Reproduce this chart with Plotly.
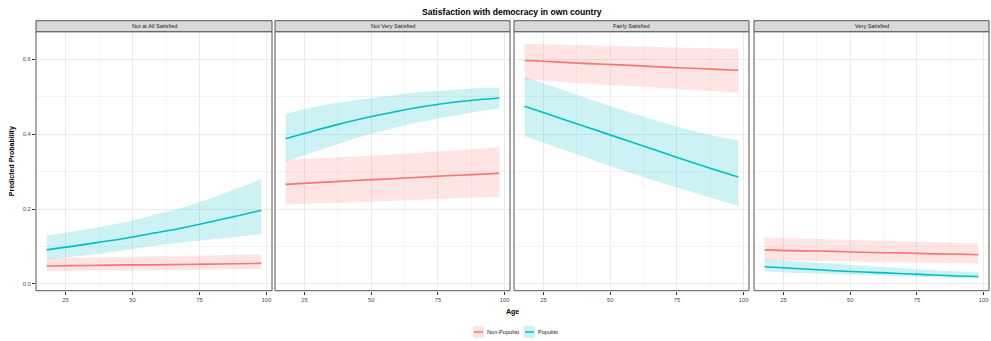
import plotly.graph_objects as go

# Predicted probabilities by age, for each level of satisfaction with democracy
ages = [18, 28, 38, 48, 58, 68, 78, 88, 98]
panels = ["Not at All Satisfied", "Not Very Satisfied", "Fairly Satisfied", "Very Satisfied"]
groups = ["Non-Populist", "Populist"]

# Non-Populist: fit, lower bound, upper bound per panel
nonpop_fit = [
    [0.048, 0.049, 0.050, 0.051, 0.051, 0.052, 0.053, 0.054, 0.055],
    [0.266, 0.270, 0.274, 0.278, 0.281, 0.285, 0.289, 0.292, 0.296],
    [0.597, 0.594, 0.590, 0.587, 0.584, 0.580, 0.577, 0.574, 0.571],
    [0.091, 0.089, 0.088, 0.086, 0.084, 0.083, 0.081, 0.080, 0.078],
]
nonpop_lo = [
    [0.034, 0.035, 0.036, 0.036, 0.037, 0.038, 0.038, 0.039, 0.040],
    [0.212, 0.215, 0.217, 0.220, 0.222, 0.225, 0.228, 0.230, 0.233],
    [0.546, 0.542, 0.537, 0.533, 0.529, 0.524, 0.520, 0.515, 0.511],
    [0.064, 0.063, 0.062, 0.061, 0.060, 0.059, 0.057, 0.056, 0.055],
]
nonpop_hi = [
    [0.069, 0.070, 0.072, 0.073, 0.074, 0.075, 0.076, 0.078, 0.079],
    [0.331, 0.334, 0.338, 0.342, 0.346, 0.350, 0.355, 0.360, 0.366],
    [0.642, 0.640, 0.638, 0.637, 0.635, 0.633, 0.631, 0.630, 0.628],
    [0.124, 0.122, 0.120, 0.118, 0.116, 0.114, 0.112, 0.110, 0.108],
]

# Populist: fit, lower bound, upper bound per panel
pop_fit = [
    [0.091, 0.101, 0.112, 0.123, 0.136, 0.149, 0.164, 0.180, 0.197],
    [0.388, 0.408, 0.427, 0.444, 0.459, 0.472, 0.483, 0.491, 0.497],
    [0.475, 0.451, 0.427, 0.403, 0.379, 0.355, 0.331, 0.308, 0.286],
    [0.046, 0.042, 0.038, 0.034, 0.031, 0.028, 0.025, 0.022, 0.020],
]
pop_lo = [
    [0.066, 0.073, 0.081, 0.091, 0.102, 0.111, 0.119, 0.126, 0.133],
    [0.327, 0.352, 0.375, 0.397, 0.416, 0.433, 0.447, 0.459, 0.469],
    [0.395, 0.370, 0.345, 0.320, 0.296, 0.273, 0.251, 0.229, 0.208],
    [0.033, 0.030, 0.028, 0.025, 0.023, 0.021, 0.019, 0.016, 0.014],
]
pop_hi = [
    [0.129, 0.140, 0.152, 0.166, 0.183, 0.202, 0.226, 0.252, 0.280],
    [0.455, 0.472, 0.485, 0.495, 0.504, 0.512, 0.518, 0.522, 0.525],
    [0.553, 0.528, 0.504, 0.480, 0.457, 0.435, 0.414, 0.397, 0.383],
    [0.066, 0.061, 0.056, 0.051, 0.047, 0.042, 0.038, 0.034, 0.031],
]

x_ticks = [25, 50, 75, 100]
y_ticks = [0.0, 0.2, 0.4, 0.6]

W, H = 991, 341
FONT = "Liberation Sans"
RED, TEAL = "#F8766D", "#00BFC4"
RED_FILL, TEAL_FILL = "rgba(248,118,109,0.2)", "rgba(0,191,196,0.2)"

# panel geometry in pixels
panel_x = [(36, 272), (275, 510), (514, 749), (754, 989)]
plot_top, plot_bottom = 31.7, 290.7
strip_top = 20.7

def px_x(v):
    return v / W

def px_y(v):
    return 1 - v / H

fig = go.Figure()

series = [
    (nonpop_fit, nonpop_lo, nonpop_hi, RED, RED_FILL),
    (pop_fit, pop_lo, pop_hi, TEAL, TEAL_FILL),
]

for i in range(4):
    suffix = "" if i == 0 else str(i + 1)
    xa, ya = "x" + suffix, "y" + suffix
    for fit, lo, hi, col, fcol in series:
        fig.add_trace(go.Scatter(
            x=ages + ages[::-1], y=hi[i] + lo[i][::-1],
            fill="toself", fillcolor=fcol, line=dict(width=0),
            mode="lines", hoverinfo="skip", showlegend=False,
            xaxis=xa, yaxis=ya,
        ))
    for fit, lo, hi, col, fcol in series:
        fig.add_trace(go.Scatter(
            x=ages, y=fit[i], mode="lines", line=dict(color=col, width=1.6),
            line_shape="spline", showlegend=False, xaxis=xa, yaxis=ya,
        ))

axis_common = dict(
    showgrid=True, gridcolor="#EBEBEB", gridwidth=0.8,
    zeroline=False, showline=False,
    ticks="outside", ticklen=3, tickcolor="#333333", tickwidth=0.7,
    tickfont=dict(family=FONT, size=5.8, color="#4D4D4D"),
)

layout = dict(
    width=W, height=H, margin=dict(l=0, r=0, t=0, b=0),
    paper_bgcolor="white", plot_bgcolor="white", showlegend=False,
)

for i, (x0, x1) in enumerate(panel_x):
    suffix = "" if i == 0 else str(i + 1)
    layout["xaxis" + suffix] = dict(
        axis_common, domain=[px_x(x0), px_x(x1)], range=[14, 102],
        tickvals=x_ticks, ticktext=[str(t) for t in x_ticks],
        anchor="y" + suffix,
        minor=dict(showgrid=True, gridcolor="#F4F4F4", gridwidth=0.5, tickvals=[37.5, 62.5, 87.5], ticks=""),
    )
    layout["yaxis" + suffix] = dict(
        axis_common, domain=[px_y(plot_bottom), px_y(plot_top)], range=[-0.018, 0.674],
        tickvals=y_ticks, ticktext=["0.0", "0.2", "0.4", "0.6"],
        anchor="x" + suffix, showticklabels=(i == 0),
        ticks="outside" if i == 0 else "",
        minor=dict(showgrid=True, gridcolor="#F4F4F4", gridwidth=0.5, tickvals=[0.1, 0.3, 0.5], ticks=""),
    )

fig.update_layout(**layout)

shapes = []
annotations = []
for i, (x0, x1) in enumerate(panel_x):
    # panel border
    shapes.append(dict(type="rect", xref="paper", yref="paper",
                       x0=px_x(x0), x1=px_x(x1), y0=px_y(plot_bottom), y1=px_y(plot_top),
                       line=dict(color="#555555", width=1), fillcolor="rgba(0,0,0,0)", layer="above"))
    # facet strip
    shapes.append(dict(type="rect", xref="paper", yref="paper",
                       x0=px_x(x0), x1=px_x(x1), y0=px_y(plot_top), y1=px_y(strip_top),
                       line=dict(color="#555555", width=1), fillcolor="#D9D9D9"))
    annotations.append(dict(text=panels[i], xref="paper", yref="paper",
                            x=px_x((x0 + x1) / 2), y=px_y((strip_top + plot_top) / 2),
                            showarrow=False, font=dict(family=FONT, size=5.6, color="#1A1A1A"),
                            xanchor="center", yanchor="middle"))

# titles
annotations.append(dict(text="<b>Satisfaction with democracy in own country</b>", xref="paper", yref="paper",
                        x=px_x(512), y=px_y(12), showarrow=False,
                        font=dict(family=FONT, size=8.6, color="black"), xanchor="center", yanchor="middle"))
annotations.append(dict(text="<b>Age</b>", xref="paper", yref="paper",
                        x=px_x(512), y=px_y(312), showarrow=False,
                        font=dict(family=FONT, size=7, color="black"), xanchor="center", yanchor="middle"))
annotations.append(dict(text="<b>Predicted Probability</b>", xref="paper", yref="paper",
                        x=px_x(12), y=px_y((plot_top + plot_bottom) / 2), showarrow=False, textangle=-90,
                        font=dict(family=FONT, size=7, color="black"), xanchor="center", yanchor="middle"))

# legend keys
legend_items = [(groups[0], RED, RED_FILL, 473), (groups[1], TEAL, TEAL_FILL, 524)]
ly = 332
for label, col, fcol, kx in legend_items:
    shapes.append(dict(type="rect", xref="paper", yref="paper",
                       x0=px_x(kx), x1=px_x(kx + 11), y0=px_y(ly + 6), y1=px_y(ly - 6),
                       line=dict(width=0), fillcolor=fcol))
    shapes.append(dict(type="line", xref="paper", yref="paper",
                       x0=px_x(kx + 1), x1=px_x(kx + 10), y0=px_y(ly), y1=px_y(ly),
                       line=dict(color=col, width=1.5)))
    annotations.append(dict(text=label, xref="paper", yref="paper",
                            x=px_x(kx + 13), y=px_y(ly), showarrow=False, borderpad=0,
                            font=dict(family=FONT, size=5.6, color="#1A1A1A"),
                            xanchor="left", yanchor="middle"))

fig.update_layout(shapes=shapes, annotations=annotations)

fig.write_html("out.html")
